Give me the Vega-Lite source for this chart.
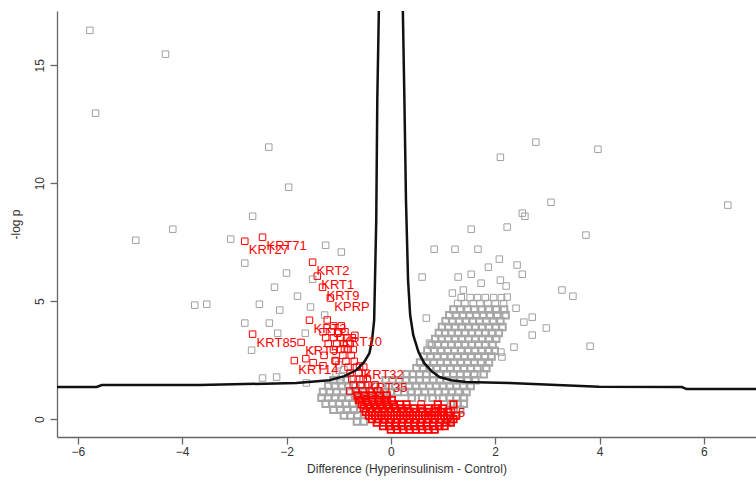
{
"$schema":"https://vega.github.io/schema/vega-lite/v6.json",
"width":699,"height":426,
"autosize":{"type":"none"},
"padding":{"left":57,"top":11,"right":0,"bottom":46},
"background":"white",
"config":{"view":{"stroke":null},"font":"Liberation Sans"},
"datasets":{
"grayOut":[
{"x":-5.77,"y":16.48},{"x":-5.66,"y":12.97},{"x":-4.32,"y":15.47},{"x":-2.34,"y":11.53},{"x":-1.96,"y":9.83},{"x":-4.89,"y":7.58},{"x":-4.18,"y":8.05},{"x":-2.65,"y":8.6},{"x":-3.07,"y":7.63},{"x":-3.76,"y":4.83},{"x":-3.53,"y":4.87},{"x":-1.25,"y":7.37},{"x":-0.95,"y":7.08},{"x":-2.8,"y":6.61},{"x":-2.0,"y":6.19},{"x":-2.23,"y":5.59},{"x":-1.5,"y":5.93},{"x":-1.79,"y":5.21},{"x":-2.52,"y":4.87},{"x":-2.13,"y":4.62},{"x":-1.54,"y":4.75},{"x":-2.8,"y":4.07},{"x":-2.33,"y":4.07},{"x":-1.27,"y":4.41},{"x":-1.64,"y":3.64},{"x":-2.17,"y":3.64},{"x":-2.67,"y":2.92},{"x":-1.5,"y":2.92},{"x":-2.46,"y":1.74},{"x":-2.19,"y":1.78},{"x":-1.62,"y":1.53},
{"x":2.1,"y":11.1},{"x":2.78,"y":11.74},{"x":3.97,"y":11.44},{"x":6.46,"y":9.07},{"x":3.07,"y":9.19},{"x":2.52,"y":8.73},{"x":2.57,"y":8.6},{"x":1.54,"y":8.05},{"x":2.23,"y":8.14},{"x":3.74,"y":7.8},{"x":0.83,"y":7.2},{"x":1.23,"y":7.2},{"x":1.67,"y":7.2},{"x":2.08,"y":6.78},{"x":2.42,"y":6.53},{"x":1.87,"y":6.44},{"x":0.6,"y":6.02},{"x":1.29,"y":6.02},{"x":1.54,"y":6.14},{"x":2.52,"y":6.14},{"x":3.28,"y":5.47},{"x":3.49,"y":5.21},{"x":3.82,"y":3.09},{"x":2.1,"y":5.89},{"x":1.73,"y":5.76},{"x":1.18,"y":5.34},{"x":1.39,"y":5.47},{"x":2.21,"y":5.64},{"x":2.23,"y":5.17},{"x":2.4,"y":4.7},{"x":2.71,"y":4.32},{"x":2.55,"y":4.11},{"x":2.98,"y":3.86},{"x":2.71,"y":3.56},{"x":2.36,"y":3.05},{"x":2.11,"y":2.84},{"x":2.13,"y":2.63},{"x":0.68,"y":4.28},{"x":0.74,"y":3.22},
{"x":1.35,"y":5.15},{"x":1.52,"y":5.15},{"x":1.66,"y":5.15},{"x":1.81,"y":5.15},{"x":1.97,"y":5.15},{"x":2.12,"y":5.15},
{"x":1.28,"y":4.9},{"x":1.42,"y":4.9},{"x":1.58,"y":4.9},{"x":1.71,"y":4.9},{"x":1.86,"y":4.9},{"x":2.0,"y":4.9},{"x":2.16,"y":4.9},
{"x":-1.0,"y":2.3},{"x":-0.9,"y":2.1},{"x":-1.05,"y":1.95},{"x":-0.95,"y":1.8}
],
"grayCore":[
{"x":1.2,"y":4.65},{"x":1.33,"y":4.65},{"x":1.47,"y":4.65},{"x":1.6,"y":4.65},{"x":1.74,"y":4.65},{"x":1.88,"y":4.65},{"x":2.02,"y":4.65},{"x":2.17,"y":4.65},
{"x":1.12,"y":4.4},{"x":1.25,"y":4.4},{"x":1.38,"y":4.4},{"x":1.51,"y":4.4},{"x":1.64,"y":4.4},{"x":1.77,"y":4.4},{"x":1.9,"y":4.4},{"x":2.04,"y":4.4},{"x":2.2,"y":4.4},
{"x":1.05,"y":4.15},{"x":1.18,"y":4.15},{"x":1.31,"y":4.15},{"x":1.44,"y":4.15},{"x":1.57,"y":4.15},{"x":1.7,"y":4.15},{"x":1.83,"y":4.15},{"x":1.96,"y":4.15},{"x":2.1,"y":4.15},
{"x":0.98,"y":3.9},{"x":1.1,"y":3.9},{"x":1.23,"y":3.9},{"x":1.36,"y":3.9},{"x":1.49,"y":3.9},{"x":1.62,"y":3.9},{"x":1.75,"y":3.9},{"x":1.88,"y":3.9},{"x":2.01,"y":3.9},{"x":2.14,"y":3.9},
{"x":0.92,"y":3.65},{"x":1.04,"y":3.65},{"x":1.16,"y":3.65},{"x":1.29,"y":3.65},{"x":1.42,"y":3.65},{"x":1.55,"y":3.65},{"x":1.68,"y":3.65},{"x":1.81,"y":3.65},{"x":1.94,"y":3.65},{"x":2.07,"y":3.65},
{"x":0.85,"y":3.4},{"x":0.97,"y":3.4},{"x":1.1,"y":3.4},{"x":1.23,"y":3.4},{"x":1.36,"y":3.4},{"x":1.49,"y":3.4},{"x":1.62,"y":3.4},{"x":1.75,"y":3.4},{"x":1.88,"y":3.4},{"x":2.02,"y":3.4},
{"x":0.78,"y":3.15},{"x":0.9,"y":3.15},{"x":1.03,"y":3.15},{"x":1.16,"y":3.15},{"x":1.29,"y":3.15},{"x":1.42,"y":3.15},{"x":1.55,"y":3.15},{"x":1.68,"y":3.15},{"x":1.81,"y":3.15},{"x":1.95,"y":3.15},
{"x":0.7,"y":2.9},{"x":0.83,"y":2.9},{"x":0.96,"y":2.9},{"x":1.09,"y":2.9},{"x":1.22,"y":2.9},{"x":1.35,"y":2.9},{"x":1.48,"y":2.9},{"x":1.61,"y":2.9},{"x":1.74,"y":2.9},{"x":1.88,"y":2.9},{"x":1.99,"y":2.9},
{"x":0.63,"y":2.65},{"x":0.76,"y":2.65},{"x":0.89,"y":2.65},{"x":1.02,"y":2.65},{"x":1.15,"y":2.65},{"x":1.28,"y":2.65},{"x":1.41,"y":2.65},{"x":1.54,"y":2.65},{"x":1.67,"y":2.65},{"x":1.8,"y":2.65},{"x":1.93,"y":2.65},
{"x":0.56,"y":2.4},{"x":0.69,"y":2.4},{"x":0.82,"y":2.4},{"x":0.95,"y":2.4},{"x":1.08,"y":2.4},{"x":1.21,"y":2.4},{"x":1.34,"y":2.4},{"x":1.47,"y":2.4},{"x":1.6,"y":2.4},{"x":1.73,"y":2.4},{"x":1.88,"y":2.4},
{"x":0.49,"y":2.15},{"x":0.62,"y":2.15},{"x":0.75,"y":2.15},{"x":0.88,"y":2.15},{"x":1.01,"y":2.15},{"x":1.14,"y":2.15},{"x":1.27,"y":2.15},{"x":1.4,"y":2.15},{"x":1.53,"y":2.15},{"x":1.66,"y":2.15},{"x":1.83,"y":2.15},
{"x":0.3,"y":1.9},{"x":0.42,"y":1.9},{"x":0.55,"y":1.9},{"x":0.68,"y":1.9},{"x":0.81,"y":1.9},{"x":0.94,"y":1.9},{"x":1.07,"y":1.9},{"x":1.2,"y":1.9},{"x":1.33,"y":1.9},{"x":1.46,"y":1.9},{"x":1.6,"y":1.9},{"x":1.78,"y":1.9},
{"x":-1.1,"y":1.65},{"x":-0.97,"y":1.65},{"x":-0.84,"y":1.65},{"x":-0.1,"y":1.65},{"x":0.03,"y":1.65},{"x":0.16,"y":1.65},{"x":0.29,"y":1.65},{"x":0.42,"y":1.65},{"x":0.55,"y":1.65},{"x":0.68,"y":1.65},{"x":0.81,"y":1.65},{"x":0.94,"y":1.65},{"x":1.07,"y":1.65},{"x":1.2,"y":1.65},{"x":1.33,"y":1.65},{"x":1.47,"y":1.65},{"x":1.62,"y":1.65},
{"x":-1.2,"y":1.4},{"x":-1.07,"y":1.4},{"x":-0.94,"y":1.4},{"x":-0.81,"y":1.4},{"x":-0.68,"y":1.4},{"x":-0.55,"y":1.4},{"x":-0.3,"y":1.4},{"x":-0.17,"y":1.4},{"x":-0.04,"y":1.4},{"x":0.09,"y":1.4},{"x":0.22,"y":1.4},{"x":0.35,"y":1.4},{"x":0.48,"y":1.4},{"x":0.61,"y":1.4},{"x":0.74,"y":1.4},{"x":0.87,"y":1.4},{"x":1.0,"y":1.4},{"x":1.13,"y":1.4},{"x":1.26,"y":1.4},{"x":1.39,"y":1.4},{"x":1.53,"y":1.4},
{"x":-1.3,"y":1.15},{"x":-1.17,"y":1.15},{"x":-1.04,"y":1.15},{"x":-0.91,"y":1.15},{"x":-0.78,"y":1.15},{"x":-0.65,"y":1.15},{"x":-0.52,"y":1.15},{"x":-0.39,"y":1.15},{"x":-0.26,"y":1.15},{"x":-0.13,"y":1.15},{"x":0.0,"y":1.15},{"x":0.13,"y":1.15},{"x":0.26,"y":1.15},{"x":0.39,"y":1.15},{"x":0.52,"y":1.15},{"x":0.65,"y":1.15},{"x":0.78,"y":1.15},{"x":0.91,"y":1.15},{"x":1.04,"y":1.15},{"x":1.17,"y":1.15},{"x":1.3,"y":1.15},{"x":1.45,"y":1.15},
{"x":-1.33,"y":0.9},{"x":-1.2,"y":0.9},{"x":-1.07,"y":0.9},{"x":-0.94,"y":0.9},{"x":-0.81,"y":0.9},{"x":-0.68,"y":0.9},{"x":0.4,"y":0.9},{"x":0.6,"y":0.9},{"x":0.8,"y":0.9},{"x":1.0,"y":0.9},{"x":1.13,"y":0.9},{"x":1.26,"y":0.9},{"x":1.4,"y":0.9},
{"x":-1.25,"y":0.65},{"x":-1.12,"y":0.65},{"x":-0.99,"y":0.65},{"x":-0.86,"y":0.65},{"x":-0.73,"y":0.65},{"x":1.15,"y":0.65},{"x":1.28,"y":0.65},{"x":1.4,"y":0.65},
{"x":-1.1,"y":0.4},{"x":-0.97,"y":0.4},{"x":-0.84,"y":0.4},{"x":-0.71,"y":0.4},{"x":1.2,"y":0.4},{"x":1.33,"y":0.4},
{"x":-0.9,"y":0.15},{"x":-0.77,"y":0.15},{"x":-0.64,"y":0.15},{"x":1.25,"y":0.15},
{"x":-0.65,"y":-0.1},{"x":-0.52,"y":-0.1},{"x":1.12,"y":-0.1}
],
"redOut":[
{"x":-2.8,"y":7.54},{"x":-2.46,"y":7.71},{"x":-1.5,"y":6.65},{"x":-1.41,"y":6.06},{"x":-1.31,"y":5.59},{"x":-1.16,"y":5.13},{"x":-1.02,"y":3.64},{"x":-2.65,"y":3.6},{"x":-1.56,"y":4.19},{"x":-1.72,"y":3.25},{"x":-1.85,"y":2.48},{"x":-1.63,"y":2.56},{"x":-1.49,"y":2.39},{"x":-1.3,"y":2.26},{"x":-1.07,"y":2.48},{"x":-0.89,"y":2.98},{"x":-0.69,"y":3.55},{"x":-0.6,"y":2.25},{"x":-0.53,"y":1.69},{"x":-0.79,"y":1.19},{"x":0.58,"y":0.64},
{"x":-1.1,"y":3.95},{"x":-0.95,"y":3.95},{"x":-1.22,"y":4.2},
{"x":-1.3,"y":3.7},{"x":-1.14,"y":3.7},{"x":-1.0,"y":3.7},{"x":-0.88,"y":3.7},
{"x":-1.25,"y":3.45},{"x":-1.1,"y":3.45},{"x":-0.96,"y":3.45},{"x":-0.84,"y":3.45},{"x":-0.74,"y":3.45},
{"x":-1.2,"y":3.2},{"x":-1.04,"y":3.2},{"x":-0.9,"y":3.2},{"x":-0.78,"y":3.2},
{"x":-1.1,"y":2.95},{"x":-0.96,"y":2.95},{"x":-0.82,"y":2.95},{"x":-0.72,"y":2.95},
{"x":-1.28,"y":2.7},{"x":-0.92,"y":2.7},{"x":-0.76,"y":2.7},
{"x":-1.05,"y":2.45},{"x":-0.86,"y":2.45},{"x":-0.7,"y":2.45},
{"x":-0.82,"y":2.2},{"x":-0.66,"y":2.2},{"x":-0.52,"y":2.2},
{"x":-0.78,"y":1.95},{"x":-0.62,"y":1.95},{"x":-0.48,"y":1.95},
{"x":-0.75,"y":1.7},{"x":-0.6,"y":1.7},{"x":-0.45,"y":1.7},
{"x":-0.72,"y":1.45},{"x":-0.58,"y":1.45},{"x":-0.44,"y":1.45},{"x":-0.3,"y":1.45},
{"x":-0.68,"y":1.2},{"x":-0.54,"y":1.2},{"x":-0.4,"y":1.2},{"x":-0.25,"y":1.2}
],
"redCore":[
{"x":-0.64,"y":1.0},{"x":-0.5,"y":1.0},{"x":-0.36,"y":1.0},{"x":-0.22,"y":1.0},{"x":-0.08,"y":1.0},
{"x":-0.6,"y":0.8},{"x":-0.48,"y":0.8},{"x":-0.36,"y":0.8},{"x":-0.24,"y":0.8},{"x":-0.12,"y":0.8},{"x":0.02,"y":0.8},
{"x":-0.56,"y":0.62},{"x":-0.44,"y":0.62},{"x":-0.32,"y":0.62},{"x":-0.2,"y":0.62},{"x":-0.08,"y":0.62},{"x":0.05,"y":0.62},{"x":0.18,"y":0.62},{"x":0.3,"y":0.62},{"x":0.9,"y":0.62},{"x":1.2,"y":0.62},
{"x":-0.52,"y":0.45},{"x":-0.4,"y":0.45},{"x":-0.28,"y":0.45},{"x":-0.16,"y":0.45},{"x":-0.04,"y":0.45},{"x":0.08,"y":0.45},{"x":0.2,"y":0.45},{"x":0.32,"y":0.45},{"x":0.44,"y":0.45},{"x":0.58,"y":0.45},{"x":0.72,"y":0.45},{"x":0.86,"y":0.45},{"x":1.0,"y":0.45},
{"x":-0.48,"y":0.3},{"x":-0.36,"y":0.3},{"x":-0.24,"y":0.3},{"x":-0.12,"y":0.3},{"x":0.0,"y":0.3},{"x":0.12,"y":0.3},{"x":0.24,"y":0.3},{"x":0.36,"y":0.3},{"x":0.48,"y":0.3},{"x":0.6,"y":0.3},{"x":0.72,"y":0.3},{"x":0.84,"y":0.3},{"x":0.96,"y":0.3},{"x":1.1,"y":0.3},
{"x":-0.42,"y":0.15},{"x":-0.3,"y":0.15},{"x":-0.18,"y":0.15},{"x":-0.06,"y":0.15},{"x":0.06,"y":0.15},{"x":0.18,"y":0.15},{"x":0.3,"y":0.15},{"x":0.42,"y":0.15},{"x":0.54,"y":0.15},{"x":0.66,"y":0.15},{"x":0.78,"y":0.15},{"x":0.9,"y":0.15},{"x":1.02,"y":0.15},{"x":1.14,"y":0.15},{"x":1.25,"y":0.15},
{"x":-0.36,"y":0.0},{"x":-0.24,"y":0.0},{"x":-0.12,"y":0.0},{"x":0.0,"y":0.0},{"x":0.12,"y":0.0},{"x":0.24,"y":0.0},{"x":0.36,"y":0.0},{"x":0.48,"y":0.0},{"x":0.6,"y":0.0},{"x":0.72,"y":0.0},{"x":0.84,"y":0.0},{"x":0.96,"y":0.0},{"x":1.08,"y":0.0},{"x":1.2,"y":0.0},
{"x":-0.27,"y":-0.15},{"x":-0.15,"y":-0.15},{"x":-0.03,"y":-0.15},{"x":0.09,"y":-0.15},{"x":0.21,"y":-0.15},{"x":0.33,"y":-0.15},{"x":0.45,"y":-0.15},{"x":0.57,"y":-0.15},{"x":0.69,"y":-0.15},{"x":0.81,"y":-0.15},{"x":0.93,"y":-0.15},{"x":1.05,"y":-0.15},{"x":1.15,"y":-0.15},
{"x":-0.15,"y":-0.3},{"x":-0.03,"y":-0.3},{"x":0.09,"y":-0.3},{"x":0.21,"y":-0.3},{"x":0.33,"y":-0.3},{"x":0.45,"y":-0.3},{"x":0.57,"y":-0.3},{"x":0.69,"y":-0.3},{"x":0.81,"y":-0.3},{"x":0.93,"y":-0.3},{"x":1.03,"y":-0.3},
{"x":0.0,"y":-0.45},{"x":0.12,"y":-0.45},{"x":0.24,"y":-0.45},{"x":0.36,"y":-0.45},{"x":0.48,"y":-0.45},{"x":0.6,"y":-0.45},{"x":0.72,"y":-0.45},{"x":0.84,"y":-0.45}
],
"curve":[
{"s":"L","o":1,"x":-6.4,"y":1.36},{"s":"L","o":2,"x":-5.64,"y":1.36},{"s":"L","o":3,"x":-5.54,"y":1.44},{"s":"L","o":4,"x":-3.67,"y":1.44},{"s":"L","o":5,"x":-1.81,"y":1.53},{"s":"L","o":6,"x":-1.18,"y":1.65},{"s":"L","o":7,"x":-0.89,"y":1.82},{"s":"L","o":8,"x":-0.66,"y":2.08},{"s":"L","o":9,"x":-0.51,"y":2.42},{"s":"L","o":10,"x":-0.41,"y":2.8},{"s":"L","o":11,"x":-0.36,"y":3.35},{"s":"L","o":12,"x":-0.32,"y":4.19},{"s":"L","o":13,"x":-0.28,"y":8.43},{"s":"L","o":14,"x":-0.26,"y":13.5},{"s":"L","o":15,"x":-0.23,"y":17.3},
{"s":"R","o":1,"x":0.23,"y":17.3},{"s":"R","o":2,"x":0.26,"y":13.5},{"s":"R","o":3,"x":0.29,"y":9.28},{"s":"R","o":4,"x":0.33,"y":5.89},{"s":"R","o":5,"x":0.37,"y":4.41},{"s":"R","o":6,"x":0.43,"y":3.56},{"s":"R","o":7,"x":0.53,"y":2.84},{"s":"R","o":8,"x":0.64,"y":2.37},{"s":"R","o":9,"x":0.78,"y":2.03},{"s":"R","o":10,"x":0.93,"y":1.78},{"s":"R","o":11,"x":1.16,"y":1.65},{"s":"R","o":12,"x":1.44,"y":1.57},{"s":"R","o":13,"x":2.27,"y":1.53},{"s":"R","o":14,"x":3.99,"y":1.37},{"s":"R","o":15,"x":5.58,"y":1.36},{"s":"R","o":16,"x":5.67,"y":1.27},{"s":"R","o":17,"x":7.0,"y":1.27}
],
"lab":[
{"x":-2.46,"y":7.71,"t":"KRT71"},{"x":-2.8,"y":7.54,"t":"KRT27"},{"x":-1.5,"y":6.65,"t":"KRT2"},{"x":-1.41,"y":6.06,"t":"KRT1"},{"x":-1.31,"y":5.59,"t":"KRT9"},{"x":-1.16,"y":5.13,"t":"KPRP"},{"x":-1.56,"y":4.19,"t":"KRT3"},{"x":-1.02,"y":3.64,"t":"KRT10"},{"x":-2.65,"y":3.6,"t":"KRT85"},{"x":-1.72,"y":3.25,"t":"KRT5"},{"x":-1.85,"y":2.48,"t":"KRT14"},{"x":-0.6,"y":2.25,"t":"KRT32"},{"x":-0.53,"y":1.69,"t":"KRT35"},{"x":-0.79,"y":1.19,"t":"KRT31"},{"x":0.58,"y":0.64,"t":"KRT15"}
]
},
"encoding":{
"x":{"field":"x","type":"quantitative","scale":{"domain":[-6.4,7.0],"nice":false,"zero":false},
"axis":{"values":[-6,-4,-2,0,2,4,6],"title":"Difference (Hyperinsulinism - Control)","grid":false,"tickSize":7,"domainColor":"#666","tickColor":"#666","domainWidth":1.3,"tickWidth":1.3,"labelColor":"#333","labelFontSize":12,"labelPadding":2,"titleFontSize":12,"titleFontWeight":"normal","titleColor":"#333","titlePadding":6,"labelFont":"Liberation Sans","titleFont":"Liberation Sans"}},
"y":{"field":"y","type":"quantitative","scale":{"domain":[-0.76,17.3],"nice":false,"zero":false},
"axis":{"values":[0,5,10,15],"title":"-log p","grid":false,"tickSize":7,"domainColor":"#666","tickColor":"#666","domainWidth":1.3,"tickWidth":1.3,"labelColor":"#333","labelFontSize":12,"labelAngle":-90,"labelAlign":"center","labelBaseline":"bottom","labelPadding":4,"titleFontSize":12,"titleFontWeight":"normal","titleColor":"#333","titlePadding":11,"labelFont":"Liberation Sans","titleFont":"Liberation Sans"}}
},
"layer":[
{"data":{"name":"grayOut"},"mark":{"type":"point","shape":"square","filled":false,"stroke":"#a0a0a0","strokeWidth":1,"size":42,"opacity":1}},
{"data":{"name":"grayCore"},"mark":{"type":"point","shape":"square","filled":false,"stroke":"#a6a6a6","strokeWidth":2,"size":42,"opacity":1}},
{"data":{"name":"redOut"},"mark":{"type":"point","shape":"square","filled":false,"stroke":"#ff0000","strokeWidth":1,"size":42,"opacity":1}},
{"data":{"name":"redCore"},"mark":{"type":"point","shape":"square","filled":false,"stroke":"#ff0000","strokeWidth":1.8,"size":42,"opacity":1}},
{"data":{"name":"curve"},"mark":{"type":"line","color":"#111","strokeWidth":2.5,"clip":true},"encoding":{"order":{"field":"o","type":"quantitative"},"detail":{"field":"s"}}},
{"data":{"name":"lab"},"mark":{"type":"text","color":"#ff0000","fontSize":13,"font":"Liberation Sans","align":"left","baseline":"middle","dx":4,"dy":9},"encoding":{"text":{"field":"t"}}}
]
}
